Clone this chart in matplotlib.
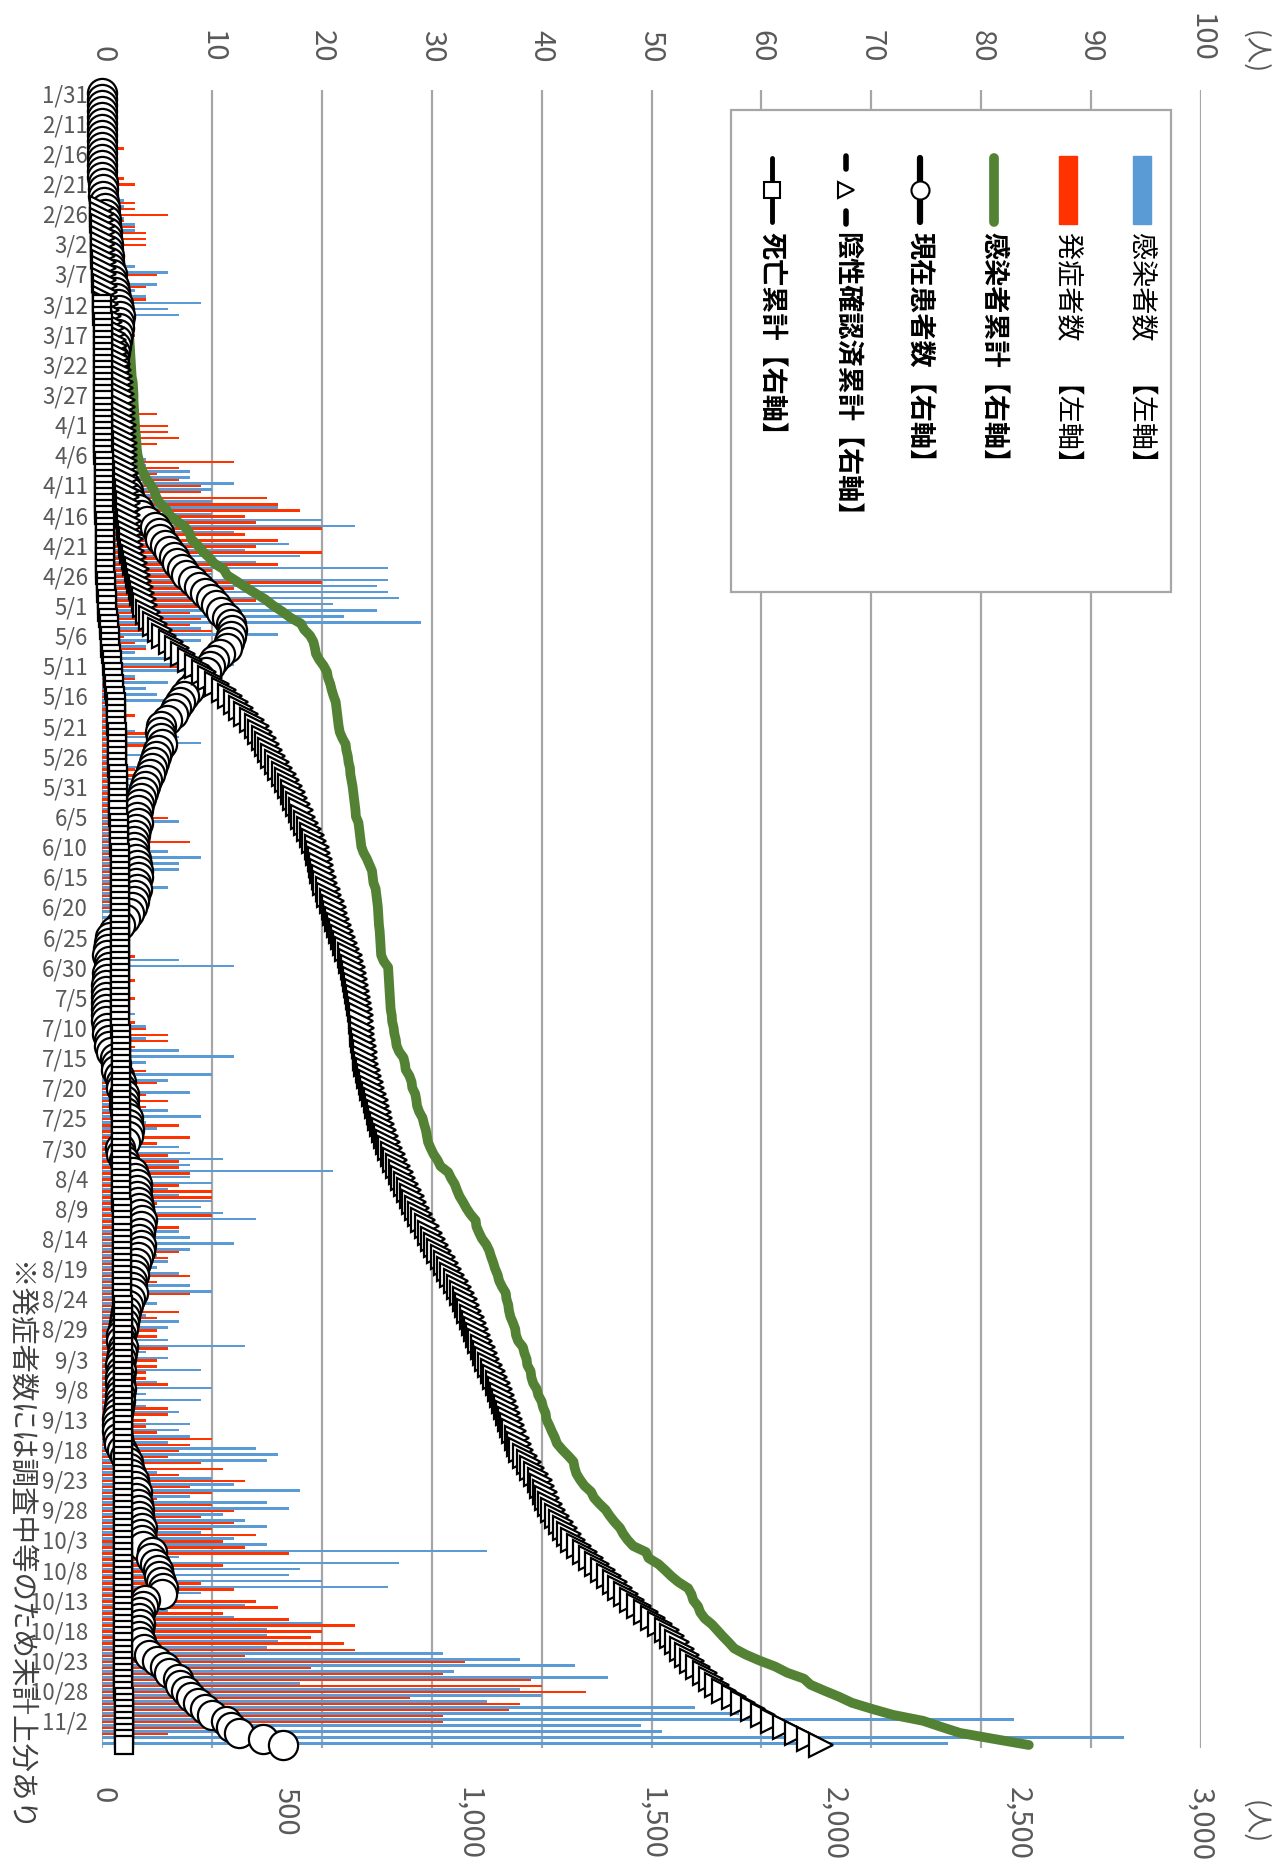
import numpy as np
import pandas as pd
import matplotlib
matplotlib.use("Agg")
import matplotlib.pyplot as plt
from matplotlib.patches import Rectangle

plt.rcParams['font.family'] = ['Noto Sans CJK JP', 'DejaVu Sans']

# 日付 (1/31, 2/7-2/10, 以降は毎日)
dates = ['1/31', '2/7', '2/8', '2/9', '2/10'] + \
    [f"{d.month}/{d.day}" for d in pd.date_range('2020-02-11', '2020-11-06')]

# 感染者数【左軸】
infected = [
    1, 0, 0, 0, 0, 0, 0, 0, 0, 0,
    0, 0, 0, 1, 0, 1, 0, 1, 2, 2,
    1, 2, 3, 3, 1, 1, 2, 1, 1, 3,
    6, 2, 5, 3, 4, 9, 6, 7, 2, 3,
    1, 1, 1, 1, 1, 1, 1, 1, 3, 1,
    1, 0, 1, 1, 1, 1, 1, 2, 1, 1,
    2, 4, 4, 8, 8, 12, 10, 5, 10, 16,
    10, 20, 23, 12, 5, 17, 13, 18, 14, 26,
    10, 26, 25, 26, 27, 21, 25, 22, 29, 9,
    16, 9, 4, 3, 9, 12, 9, 3, 6, 4,
    5, 6, 2, 2, 2, 2, 3, 7, 9, 2,
    4, 2, 4, 1, 3, 3, 2, 2, 2, 2,
    1, 7, 2, 2, 2, 2, 6, 9, 7, 7,
    2, 2, 6, 2, 2, 2, 1, 1, 1, 2,
    1, 1, 1, 1, 7, 12, 1, 1, 1, 1,
    1, 1, 1, 3, 1, 4, 2, 4, 2, 7,
    12, 4, 2, 10, 6, 2, 8, 3, 2, 6,
    9, 4, 5, 3, 3, 7, 8, 11, 8, 21,
    8, 10, 6, 7, 10, 9, 11, 14, 2, 7,
    8, 12, 8, 5, 6, 5, 7, 4, 8, 10,
    2, 5, 2, 4, 7, 6, 2, 6, 13, 4,
    6, 2, 9, 2, 5, 10, 4, 9, 4, 7,
    2, 8, 7, 8, 6, 14, 16, 15, 3, 5,
    10, 12, 18, 8, 15, 17, 11, 13, 15, 9,
    12, 15, 35, 7, 27, 18, 17, 20, 26, 9,
    5, 13, 6, 12, 20, 15, 15, 16, 15, 31,
    38, 43, 32, 46, 18, 38, 40, 35, 54, 58,
    83, 49, 51, 93, 77]

# 発症者数【左軸】
onset = [
    0, 0, 0, 0, 0, 0, 0, 0, 0, 2,
    0, 0, 0, 0, 2, 3, 1, 1, 3, 3,
    6, 2, 3, 4, 4, 4, 1, 1, 1, 1,
    5, 1, 4, 2, 4, 2, 2, 3, 1, 1,
    3, 1, 1, 1, 3, 1, 1, 1, 1, 1,
    1, 1, 1, 5, 1, 6, 6, 7, 5, 2,
    2, 12, 7, 5, 7, 9, 9, 15, 16, 18,
    13, 14, 20, 13, 16, 14, 20, 8, 16, 10,
    8, 20, 12, 10, 14, 10, 8, 9, 8, 10,
    2, 3, 4, 1, 1, 7, 1, 3, 1, 1,
    1, 1, 1, 3, 1, 1, 4, 1, 4, 1,
    1, 1, 3, 3, 1, 1, 3, 1, 1, 1,
    6, 1, 1, 1, 8, 1, 1, 1, 1, 1,
    1, 1, 1, 1, 1, 1, 0, 0, 1, 0,
    1, 1, 1, 3, 1, 1, 1, 3, 1, 1,
    3, 1, 1, 1, 3, 4, 6, 6, 3, 2,
    2, 2, 4, 2, 5, 2, 4, 6, 4, 2,
    2, 7, 2, 8, 5, 3, 6, 7, 7, 8,
    4, 7, 10, 10, 5, 2, 10, 2, 7, 2,
    2, 2, 7, 6, 2, 2, 8, 5, 2, 8,
    2, 2, 7, 5, 2, 5, 5, 2, 6, 2,
    5, 5, 4, 4, 6, 2, 2, 2, 6, 6,
    4, 4, 5, 10, 8, 7, 6, 9, 11, 7,
    13, 8, 10, 5, 10, 12, 9, 12, 10, 14,
    11, 13, 17, 4, 11, 5, 5, 9, 12, 5,
    14, 16, 11, 17, 23, 20, 19, 22, 23, 13,
    33, 19, 31, 39, 40, 44, 28, 38, 37, 31,
    31, 10, 6, 0, 0]

# 感染者累計【右軸】
cum_infected = [
    1, 1, 1, 1, 1, 1, 1, 1, 1, 1,
    1, 1, 1, 2, 2, 3, 3, 4, 6, 8,
    9, 11, 14, 17, 18, 19, 21, 22, 23, 26,
    32, 34, 39, 42, 46, 55, 61, 68, 70, 73,
    74, 75, 76, 77, 78, 79, 80, 81, 84, 85,
    86, 86, 87, 88, 89, 90, 91, 93, 94, 95,
    97, 101, 105, 113, 121, 133, 143, 148, 158, 174,
    184, 204, 227, 239, 244, 261, 274, 292, 306, 332,
    342, 368, 393, 419, 446, 467, 492, 514, 543, 552,
    568, 577, 581, 584, 593, 605, 614, 617, 623, 627,
    632, 638, 640, 642, 644, 646, 649, 656, 665, 667,
    671, 673, 677, 678, 681, 684, 686, 688, 690, 692,
    693, 700, 702, 704, 706, 708, 714, 723, 730, 737,
    739, 741, 747, 749, 751, 753, 754, 755, 756, 758,
    759, 760, 761, 762, 769, 781, 782, 783, 784, 785,
    786, 787, 788, 791, 792, 796, 798, 802, 804, 811,
    823, 827, 829, 839, 845, 847, 855, 858, 860, 866,
    875, 879, 884, 887, 890, 897, 905, 916, 924, 945,
    953, 963, 969, 976, 986, 995, 1006, 1020, 1022, 1029,
    1037, 1049, 1057, 1062, 1068, 1073, 1080, 1084, 1092, 1102,
    1104, 1109, 1111, 1115, 1122, 1128, 1130, 1136, 1149, 1153,
    1159, 1161, 1170, 1172, 1177, 1187, 1191, 1200, 1204, 1211,
    1213, 1221, 1228, 1236, 1242, 1256, 1272, 1287, 1290, 1295,
    1305, 1317, 1335, 1343, 1358, 1375, 1386, 1399, 1414, 1423,
    1435, 1450, 1485, 1492, 1519, 1537, 1554, 1574, 1600, 1609,
    1614, 1627, 1633, 1645, 1665, 1680, 1695, 1711, 1726, 1757,
    1795, 1838, 1870, 1916, 1934, 1972, 2012, 2047, 2101, 2159,
    2242, 2291, 2342, 2435, 2530]

# 現在患者数【右軸】
current = [
    0, 0, 0, 0, 0, 0, 0, 0, 0, 0,
    0, 0, 0, 1, 1, 2, 2, 3, 5, 7,
    8, 10, 12, 15, 15, 16, 17, 18, 18, 21,
    27, 28, 32, 35, 38, 44, 46, 49, 47, 46,
    43, 41, 38, 36, 34, 32, 31, 30, 31, 30,
    29, 28, 28, 28, 28, 28, 27, 28, 28, 29,
    30, 33, 36, 43, 50, 62, 71, 74, 82, 97,
    106, 124, 145, 155, 158, 173, 183, 197, 206, 218,
    230, 248, 265, 282, 298, 310, 325, 340, 352, 355,
    352, 348, 340, 322, 305, 295, 285, 268, 255, 238,
    223, 212, 203, 195, 178, 162, 158, 160, 163, 154,
    148, 142, 137, 130, 124, 118, 112, 107, 102, 98,
    95, 97, 93, 89, 87, 86, 88, 92, 96, 99,
    97, 94, 96, 90, 86, 82, 75, 64, 48, 32,
    22, 18, 16, 15, 18, 20, 15, 13, 12, 11,
    11, 10, 10, 12, 11, 14, 15, 18, 19, 25,
    36, 38, 38, 47, 52, 52, 59, 60, 59, 63,
    70, 72, 74, 72, 62, 48, 52, 60, 66, 84,
    90, 95, 96, 95, 98, 100, 104, 110, 106, 104,
    102, 106, 104, 98, 94, 88, 86, 82, 82, 84,
    76, 72, 66, 62, 60, 56, 52, 52, 58, 55,
    52, 48, 52, 48, 48, 52, 48, 50, 46, 44,
    40, 40, 42, 44, 46, 55, 64, 72, 74, 78,
    86, 90, 96, 94, 97, 100, 102, 104, 108, 106,
    108, 112, 136, 135, 146, 152, 155, 160, 166, 164,
    118, 112, 105, 102, 104, 100, 102, 106, 114, 128,
    150, 172, 184, 208, 212, 230, 244, 262, 282, 300,
    338, 352, 375, 440, 495]

# 陰性確認済累計【右軸】
negative = [None] * 19 + [
    0,
    1, 1, 2, 2, 3, 3, 4, 4, 5, 5,
    5, 6, 7, 7, 8, 10, 14, 18, 22, 26,
    30, 33, 36, 39, 42, 45, 47, 49, 51, 53,
    55, 56, 57, 57, 58, 59, 60, 61, 62, 62,
    63, 63, 64, 65, 65, 66, 67, 68, 70, 71,
    72, 73, 75, 77, 78, 80, 83, 87, 91, 95,
    98, 102, 106, 110, 114, 118, 126, 135, 145, 157,
    170, 188, 205, 222, 240, 259, 278, 296, 315, 333,
    350, 365, 380, 394, 409, 423, 432, 441, 450, 459,
    468, 477, 487, 496, 505, 514, 521, 528, 536, 543,
    550, 557, 564, 572, 579, 586, 590, 594, 597, 601,
    605, 610, 616, 621, 627, 632, 636, 641, 646, 652,
    658, 664, 670, 676, 681, 685, 688, 691, 694, 697,
    700, 702, 704, 706, 708, 710, 711, 713, 715, 717,
    719, 722, 726, 730, 734, 738, 742, 747, 752, 756,
    760, 765, 770, 776, 781, 787, 794, 801, 808, 816,
    823, 831, 838, 846, 853, 860, 868, 877, 886, 895,
    903, 912, 921, 930, 939, 947, 956, 965, 974, 983,
    991, 997, 1003, 1009, 1015, 1021, 1027, 1033, 1039, 1045,
    1051, 1058, 1066, 1073, 1080, 1087, 1092, 1097, 1103, 1108,
    1113, 1119, 1126, 1132, 1139, 1145, 1155, 1165, 1175, 1185,
    1195, 1202, 1209, 1216, 1223, 1230, 1241, 1253, 1264, 1276,
    1287, 1303, 1319, 1335, 1351, 1367, 1383, 1399, 1414, 1430,
    1446, 1465, 1484, 1503, 1522, 1541, 1555, 1569, 1582, 1596,
    1610, 1628, 1645, 1663, 1680, 1698, 1725, 1751, 1778, 1804,
    1831, 1864, 1897, 1930, 1964]

# 死亡累計【右軸】
deaths = [None] * 35 + [
    1, 1, 1, 2, 2,
    2, 2, 3, 3, 3, 3, 3, 3, 3, 3,
    3, 3, 3, 3, 3, 3, 4, 4, 4, 4,
    4, 5, 5, 5, 5, 5, 6, 6, 6, 6,
    6, 7, 7, 7, 8, 8, 8, 8, 9, 9,
    9, 10, 11, 12, 13, 14, 15, 17, 18, 20,
    21, 22, 23, 24, 26, 27, 29, 31, 33, 34,
    36, 37, 37, 38, 38, 39, 40, 40, 41, 41,
    41, 42, 42, 43, 43, 43, 44, 44, 45, 45,
    45, 46, 46, 47, 47, 47, 48, 48, 48, 48,
    48, 48, 48, 48, 48, 48, 48, 48, 48, 48,
    50, 50, 50, 50, 50, 50, 50, 50, 50, 50,
    50, 50, 50, 50, 50, 50, 51, 51, 51, 51,
    51, 51, 51, 51, 51, 51, 51, 51, 51, 51,
    51, 51, 51, 51, 51, 51, 53, 53, 53, 53,
    53, 53, 53, 53, 53, 55, 55, 55, 55, 55,
    55, 55, 55, 55, 55, 55, 55, 55, 55, 55,
    55, 56, 56, 56, 56, 56, 56, 56, 56, 56,
    56, 56, 56, 56, 56, 56, 56, 56, 56, 56,
    56, 56, 56, 56, 56, 56, 56, 56, 56, 56,
    56, 56, 56, 56, 56, 56, 56, 56, 56, 56,
    56, 57, 57, 57, 57, 57, 57, 57, 57, 57,
    57, 57, 57, 57, 57, 57, 58, 58, 58, 58,
    58, 58, 58, 58, 58, 58, 59, 59, 59, 59,
    59, 59, 59, 59, 59]

legend_labels = ['感染者数　【左軸】', '発症者数　【左軸】', '感染者累計【右軸】',
                 '現在患者数【右軸】', '陰性確認済累計【右軸】', '死亡累計【右軸】']
footnote = '※発症者数には調査中等のため未計上分あり'

blue = '#5B9BD5'
red = '#FF3300'
green = '#548235'
gray_txt = '#595959'
grid_c = '#A6A6A6'

def arr(v):
    return np.array([np.nan if x is None else x for x in v], dtype=float)

n = len(dates)
k = np.arange(n)

W, H = 1278, 1860
fig = plt.figure(figsize=(W / 100, H / 100), dpi=100)
ax = fig.add_axes([102 / W, 1 - 1748 / H, (1201 - 102) / W, (1748 - 90) / H])
ax2 = ax.twiny()

# 棒グラフ（左軸 0-100、上側の目盛）
ax.barh(k - 0.21, arr(infected), height=0.42, color=blue, zorder=2)
ax.barh(k + 0.21, arr(onset), height=0.42, color=red, zorder=2)
ax.set_xlim(0, 100)
ax.set_ylim(n - 0.5, -0.5)
ax.set_xticks(range(0, 101, 10))
ax.grid(axis='x', color=grid_c, linewidth=1.6, zorder=0)
ax.set_axisbelow(True)
ax.tick_params(axis='x', top=True, labeltop=True, bottom=False, labelbottom=False,
               length=0, pad=20, labelsize=21, labelcolor=gray_txt,
               labelrotation=-90)
ax.set_yticks(k[::5])
ax.set_yticklabels(dates[::5])
ax.tick_params(axis='y', length=0, pad=10, labelsize=16, labelcolor=gray_txt)
for s in ax.spines.values():
    s.set_visible(False)

# 折れ線（右軸 0-3000、下側の目盛）
ax2.plot(arr(cum_infected), k, color=green, lw=7, solid_capstyle='round',
         zorder=2, clip_on=False)
ax2.plot(arr(current), k, color='black', lw=4, marker='o', ms=21,
         mfc='white', mec='black', mew=1.6, zorder=3, clip_on=False)
ax2.plot(arr(negative), k, color='black', lw=2, ls='--', marker='>', ms=17,
         mfc='white', mec='black', mew=1.6, zorder=4, clip_on=False)
ax2.plot(arr(deaths), k, color='black', lw=3, marker='s', ms=13,
         mfc='white', mec='black', mew=1.6, zorder=5, clip_on=False)
ax2.set_xlim(0, 3000)
ax2.set_ylim(n - 0.5, -0.5)
ticks2 = list(range(0, 3001, 500))
ax2.set_xticks(ticks2)
ax2.set_xticklabels([f"{v:,}" for v in ticks2])
ax2.tick_params(axis='x', bottom=True, labelbottom=True, top=False, labeltop=False,
                length=0, pad=28, labelsize=21, labelcolor=gray_txt,
                labelrotation=-90)
ax2.tick_params(axis='y', left=False, labelleft=False)
for s in ax2.spines.values():
    s.set_visible(False)

# 凡例と注記（ピクセル座標）
lg = fig.add_axes([0, 0, 1, 1], zorder=10)
lg.set_xlim(0, W)
lg.set_ylim(H, 0)
lg.axis('off')
lg.add_patch(Rectangle((731, 110), 440, 482, facecolor='white',
                       edgecolor=grid_c, lw=1.6))
xs = [1142, 1068, 994, 920, 846, 772]
lg.add_patch(Rectangle((xs[0] - 9, 156), 18, 68, color=blue))
lg.add_patch(Rectangle((xs[1] - 9, 156), 18, 68, color=red))
lg.plot([xs[2], xs[2]], [158, 222], color=green, lw=7, solid_capstyle='round')
lg.plot([xs[3], xs[3]], [158, 222], color='black', lw=4.5, solid_capstyle='round')
lg.plot(xs[3], 190, marker='o', ms=13, mfc='white', mec='black', mew=1.5)
lg.plot([xs[4], xs[4]], [156, 169], color='black', lw=4, solid_capstyle='round')
lg.plot([xs[4], xs[4]], [211, 224], color='black', lw=4, solid_capstyle='round')
lg.plot(xs[4], 190, marker='>', ms=11, mfc='white', mec='black', mew=1.5)
lg.plot([xs[5], xs[5]], [158, 222], color='black', lw=3.5, solid_capstyle='round')
lg.plot(xs[5], 190, marker='s', ms=12, mfc='white', mec='black', mew=1.5)
for i, (x, t) in enumerate(zip(xs, legend_labels)):
    lg.text(x, 232, t, rotation=-90, ha='center', va='top', fontsize=19.5,
            color='black', fontweight='normal' if i < 2 else 'bold')

lg.text(1255, 30, '(人)', rotation=-90, ha='center', va='top', fontsize=19,
        color=gray_txt)
lg.text(1255, 1800, '(人)', rotation=-90, ha='center', va='top', fontsize=19,
        color=gray_txt)
lg.text(18, 1262, footnote, rotation=-90, ha='center', va='top', fontsize=20.5,
        color='#404040')

fig.savefig('out.png', dpi=100, facecolor='white')
